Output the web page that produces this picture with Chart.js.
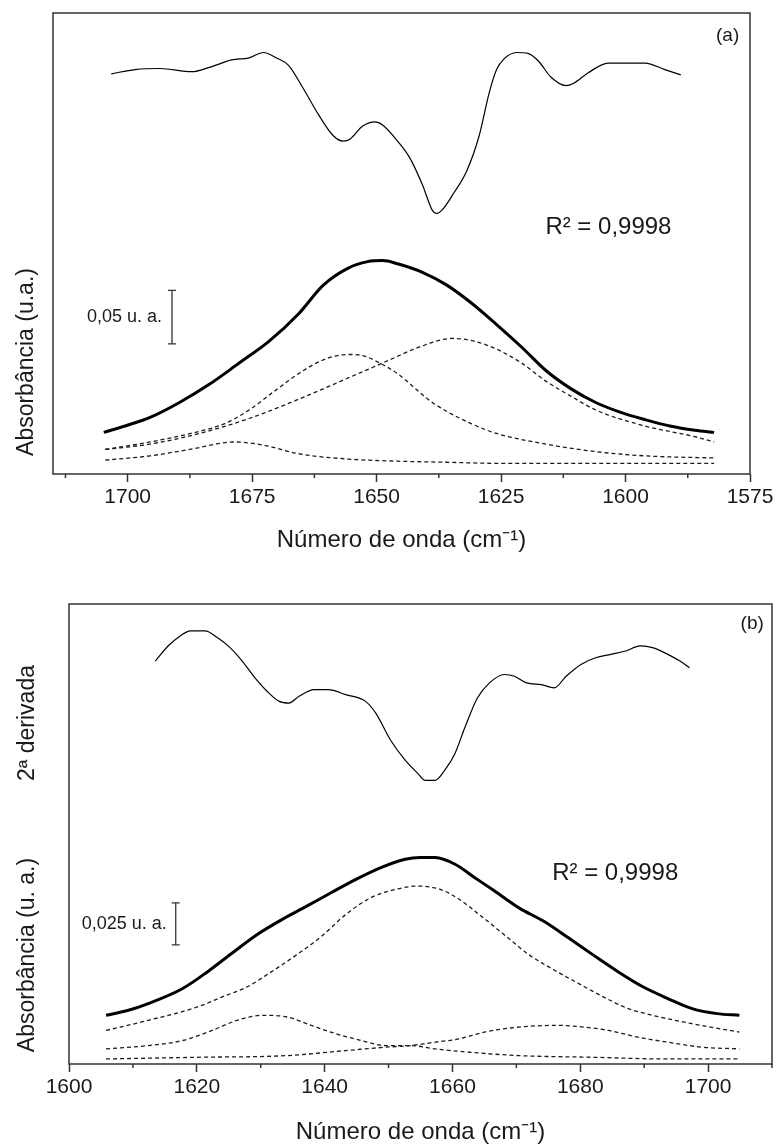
<!DOCTYPE html>
<html lang="pt">
<head>
<meta charset="UTF-8">
<title>Ajuste de bandas - amida I</title>
<script src="https://cdn.jsdelivr.net/npm/chart.js"></script>
<style>
  body { margin: 0; background: #fff; width: 777px; height: 1144px; overflow: hidden; }
  .box { position: absolute; left: 0; width: 777px; }
  #boxA { top: 0; height: 560px; }
  #boxB { top: 580px; height: 564px; }
</style>
</head>
<body>
<div class="box" id="boxA"><canvas id="chartA"></canvas></div>
<div class="box" id="boxB"><canvas id="chartB"></canvas></div>
<script>
// ---- painel (a) ----
const derivA_x = [1703.3,1698.5,1693.5,1687.1,1683.6,1679.1,1675.6,1672.7,1670.2,1667.7,1664.7,1661.7,1658.7,1656.7,1655.3,1652.8,1650.3,1648.8,1645.8,1643.3,1640.8,1638.8,1638.0,1636.9,1634.4,1631.9,1629.4,1627.4,1625.9,1624.4,1621.9,1619.5,1617.5,1615.0,1612.0,1610.5,1607.5,1603.5,1600.1,1596.1,1592.1,1588.9];
const derivA_y = [0.375,0.379,0.380,0.377,0.381,0.388,0.390,0.395,0.390,0.383,0.361,0.337,0.317,0.312,0.314,0.326,0.330,0.327,0.312,0.296,0.271,0.247,0.244,0.247,0.264,0.284,0.317,0.357,0.379,0.389,0.395,0.394,0.387,0.372,0.364,0.366,0.376,0.385,0.385,0.385,0.379,0.374];

const fitA_x = [1704.8,1700.5,1695.5,1689.6,1683.6,1677.6,1671.7,1665.7,1660.7,1655.7,1651.8,1648.8,1645.8,1640.8,1635.9,1630.9,1625.9,1620.9,1616.0,1611.0,1606.0,1601.1,1596.1,1591.1,1586.1,1582.2];
const fitA_y = [0.039,0.045,0.053,0.067,0.084,0.104,0.124,0.150,0.177,0.193,0.199,0.200,0.197,0.189,0.177,0.160,0.140,0.119,0.097,0.080,0.067,0.058,0.051,0.045,0.041,0.039];

const bandA1_x = [1704.5,1695.5,1685.6,1680.6,1675.6,1670.7,1665.7,1660.7,1655.7,1652.8,1649.8,1645.8,1638.8,1630.9,1625.9,1616.0,1606.0,1596.1,1582.2];
const bandA1_y = [0.023,0.030,0.040,0.047,0.060,0.077,0.094,0.107,0.112,0.111,0.105,0.094,0.067,0.047,0.038,0.028,0.021,0.017,0.015];

const bandA2_x = [1704.5,1695.5,1685.6,1675.6,1665.7,1655.7,1648.8,1640.8,1634.9,1630.9,1625.9,1620.9,1616.0,1611.0,1606.0,1596.1,1586.1,1582.2];
const bandA2_y = [0.023,0.028,0.038,0.052,0.070,0.090,0.104,0.120,0.127,0.125,0.117,0.104,0.087,0.073,0.060,0.045,0.035,0.030];

const bandA3_x = [1704.5,1695.5,1687.6,1678.6,1672.7,1665.7,1655.7,1645.8,1635.9,1625.9,1606.0,1582.2];
const bandA3_y = [0.013,0.017,0.023,0.030,0.027,0.019,0.014,0.012,0.011,0.010,0.010,0.010];

const ticksA = [1700, 1675, 1650, 1625, 1600, 1575];
const minorA = [1712.5, 1687.5, 1662.5, 1637.5, 1612.5, 1587.5];

// ---- painel (b) ----
const derivB_x = [1613.5,1615.5,1617.4,1619.0,1621.3,1623.2,1625.2,1627.1,1629.1,1631.0,1632.9,1634.4,1636.0,1638.3,1640.6,1643.3,1646.4,1648.0,1650.3,1652.6,1654.6,1655.7,1657.3,1658.8,1660.4,1661.9,1663.9,1665.8,1668.1,1669.7,1671.6,1673.9,1675.9,1677.8,1680.1,1682.4,1684.8,1687.1,1689.4,1691.3,1693.7,1695.6,1697.1];
const derivB_y = [0.240,0.249,0.255,0.258,0.258,0.254,0.248,0.240,0.230,0.222,0.216,0.215,0.219,0.223,0.223,0.220,0.216,0.209,0.193,0.181,0.173,0.169,0.169,0.175,0.185,0.200,0.218,0.227,0.232,0.231,0.227,0.226,0.224,0.231,0.238,0.242,0.244,0.246,0.249,0.248,0.244,0.240,0.236];

const fitB_x = [1605.8,1609.3,1612.4,1617.8,1621.7,1625.5,1629.4,1633.3,1637.2,1641.0,1644.9,1648.8,1652.6,1655.0,1657.3,1660.4,1663.5,1666.6,1670.4,1674.3,1678.2,1682.0,1685.9,1689.8,1693.7,1697.5,1701.4,1704.9];
const fitB_y = [0.029,0.032,0.036,0.045,0.055,0.066,0.077,0.086,0.094,0.102,0.110,0.117,0.122,0.123,0.123,0.119,0.111,0.103,0.093,0.085,0.075,0.065,0.055,0.046,0.039,0.033,0.030,0.029];

const bandB1_x = [1605.8,1612.4,1620.1,1624.0,1627.9,1631.7,1635.6,1639.5,1643.3,1647.2,1651.1,1654.6,1658.1,1661.1,1664.2,1668.1,1672.0,1675.9,1679.7,1683.6,1687.5,1691.3,1697.5,1704.9];
const bandB1_y = [0.020,0.026,0.034,0.040,0.046,0.055,0.065,0.076,0.089,0.099,0.104,0.106,0.104,0.098,0.089,0.077,0.065,0.056,0.048,0.040,0.033,0.029,0.024,0.019];

const bandB2_x = [1605.8,1612.4,1617.8,1622.4,1626.3,1630.2,1634.1,1637.9,1641.8,1645.7,1649.5,1653.4,1657.3,1662.7,1670.4,1682.0,1693.7,1704.9];
const bandB2_y = [0.009,0.011,0.014,0.020,0.026,0.029,0.028,0.023,0.018,0.014,0.011,0.011,0.009,0.007,0.005,0.004,0.003,0.003];

const bandB3_x = [1605.8,1620.1,1634.1,1643.3,1649.5,1653.4,1657.3,1661.1,1665.0,1670.4,1676.6,1680.5,1684.4,1689.0,1693.7,1699.1,1704.9];
const bandB3_y = [0.003,0.004,0.005,0.008,0.010,0.011,0.013,0.015,0.019,0.022,0.023,0.022,0.020,0.016,0.013,0.010,0.009];

const ticksB = [1600, 1620, 1640, 1660, 1680, 1700];
const minorB = [1610, 1630, 1650, 1670, 1690, 1710];

const FONT = '"Liberation Sans", Arial, sans-serif';
const INK = '#1a1a1a';

function pts(xs, ys) {
    return xs.map((x, i) => ({ x: x, y: ys[i] }));
}

function lineSet(xs, ys, kind) {
    let ds = {
        data: pts(xs, ys),
        borderColor: '#000',
        pointRadius: 0,
        fill: false,
        cubicInterpolationMode: 'monotone',
        borderWidth: 1.2
    };
    if (kind === 'fit') ds.borderWidth = 3;
    if (kind === 'band') { ds.borderDash = [4, 3]; ds.borderColor = '#1c1c1c'; ds.borderWidth = 1.3; }
    return ds;
}

// moldura, ticks menores, barra de escala e textos
const decor = {
    id: 'decor',
    afterDraw(chart, args, o) {
        const ctx = chart.ctx;
        const a = chart.chartArea;
        const sx = chart.scales.x, sy = chart.scales.y;
        ctx.save();
        ctx.strokeStyle = '#333';
        ctx.lineWidth = 1.5;
        ctx.strokeRect(a.left, a.top, a.right - a.left, a.bottom - a.top);

        ctx.beginPath();
        o.minor.forEach(v => {
            const px = sx.getPixelForValue(v);
            ctx.moveTo(px, a.bottom);
            ctx.lineTo(px, a.bottom + 4);
        });
        ctx.stroke();

        // barra de escala
        const bx = sx.getPixelForValue(o.bar.x);
        const b0 = sy.getPixelForValue(o.bar.y0), b1 = sy.getPixelForValue(o.bar.y1);
        ctx.lineWidth = 1.3;
        ctx.beginPath();
        ctx.moveTo(bx, b0); ctx.lineTo(bx, b1);
        ctx.moveTo(bx - 4, b0); ctx.lineTo(bx + 4, b0);
        ctx.moveTo(bx - 4, b1); ctx.lineTo(bx + 4, b1);
        ctx.stroke();

        ctx.fillStyle = INK;
        ctx.textBaseline = 'middle';
        o.notes.forEach(n => {
            ctx.font = n.size + 'px ' + FONT;
            ctx.textAlign = n.align;
            ctx.fillText(n.text, sx.getPixelForValue(n.x), sy.getPixelForValue(n.y));
        });

        // rótulos verticais
        ctx.font = '23px ' + FONT;
        ctx.textAlign = 'center';
        o.side.forEach(s => {
            ctx.save();
            ctx.translate(s.px, s.py);
            ctx.rotate(-Math.PI / 2);
            ctx.fillText(s.text, 0, 0);
            ctx.restore();
        });
        ctx.restore();
    }
};

function makeChart(id, cfg) {
    return new Chart(document.getElementById(id), {
        type: 'line',
        data: {
            datasets: [
                lineSet(cfg.deriv[0], cfg.deriv[1], 'deriv'),
                lineSet(cfg.fit[0], cfg.fit[1], 'fit'),
                ...cfg.bands.map(b => lineSet(b[0], b[1], 'band'))
            ]
        },
        options: {
            responsive: true,
            maintainAspectRatio: false,
            animation: false,
            layout: { padding: cfg.padding },
            plugins: {
                legend: { display: false },
                tooltip: { enabled: false },
                decor: cfg.decor
            },
            scales: {
                x: {
                    type: 'linear',
                    min: cfg.xmin,
                    max: cfg.xmax,
                    reverse: cfg.reverse,
                    afterBuildTicks: s => { s.ticks = cfg.ticks.map(v => ({ value: v })); },
                    afterFit: s => { s.height = cfg.axisH; },
                    border: { display: false },
                    grid: { drawOnChartArea: false, tickLength: 8, tickColor: '#333', tickWidth: 1.5 },
                    ticks: {
                        autoSkip: false, maxRotation: 0, padding: 3, color: INK,
                        font: { family: FONT, size: 21 },
                        callback: v => String(v)
                    },
                    title: {
                        display: true,
                        text: 'Número de onda (cm⁻¹)',
                        color: INK,
                        font: { family: FONT, size: 24, lineHeight: 1 },
                        padding: { top: 0, bottom: cfg.titlePad }
                    }
                },
                y: { display: false, min: 0, max: cfg.ymax }
            }
        },
        plugins: [decor]
    });
}

makeChart('chartA', {
    deriv: [derivA_x, derivA_y],
    fit: [fitA_x, fitA_y],
    bands: [[bandA1_x, bandA1_y], [bandA2_x, bandA2_y], [bandA3_x, bandA3_y]],
    padding: { left: 53, right: 27, top: 13, bottom: 0 },
    xmin: 1575, xmax: 1715, reverse: true,
    ticks: ticksA, axisH: 86, titlePad: 8, ymax: 0.432,
    decor: {
        minor: minorA,
        bar: { x: 1691.1, y0: 0.122, y1: 0.172 },
        notes: [
            { text: '(a)', x: 1579.5, y: 0.411, size: 19, align: 'center' },
            { text: 'R² = 0,9998', x: 1616.1, y: 0.231, size: 24, align: 'left' },
            { text: '0,05 u. a.', x: 1693.1, y: 0.147, size: 18, align: 'right' }
        ],
        side: [{ text: 'Absorbância (u.a.)', px: 27, py: 362 }]
    }
});

makeChart('chartB', {
    deriv: [derivB_x, derivB_y],
    fit: [fitB_x, fitB_y],
    bands: [[bandB1_x, bandB1_y], [bandB2_x, bandB2_y], [bandB3_x, bandB3_y]],
    padding: { left: 69, right: 5, top: 24, bottom: 0 },
    xmin: 1600, xmax: 1710, reverse: false,
    ticks: ticksB, axisH: 80, titlePad: 0, ymax: 0.274,
    decor: {
        minor: minorB,
        bar: { x: 1616.7, y0: 0.071, y1: 0.096 },
        notes: [
            { text: '(b)', x: 1706.9, y: 0.2624, size: 19, align: 'center' },
            { text: 'R² = 0,9998', x: 1675.6, y: 0.1136, size: 24, align: 'left' },
            { text: '0,025 u. a.', x: 1615.3, y: 0.0833, size: 18, align: 'right' }
        ],
        side: [
            { text: '2ª derivada', px: 28, py: 143 },
            { text: 'Absorbância (u. a.)', px: 28, py: 375 }
        ]
    }
});
</script>
</body>
</html>
